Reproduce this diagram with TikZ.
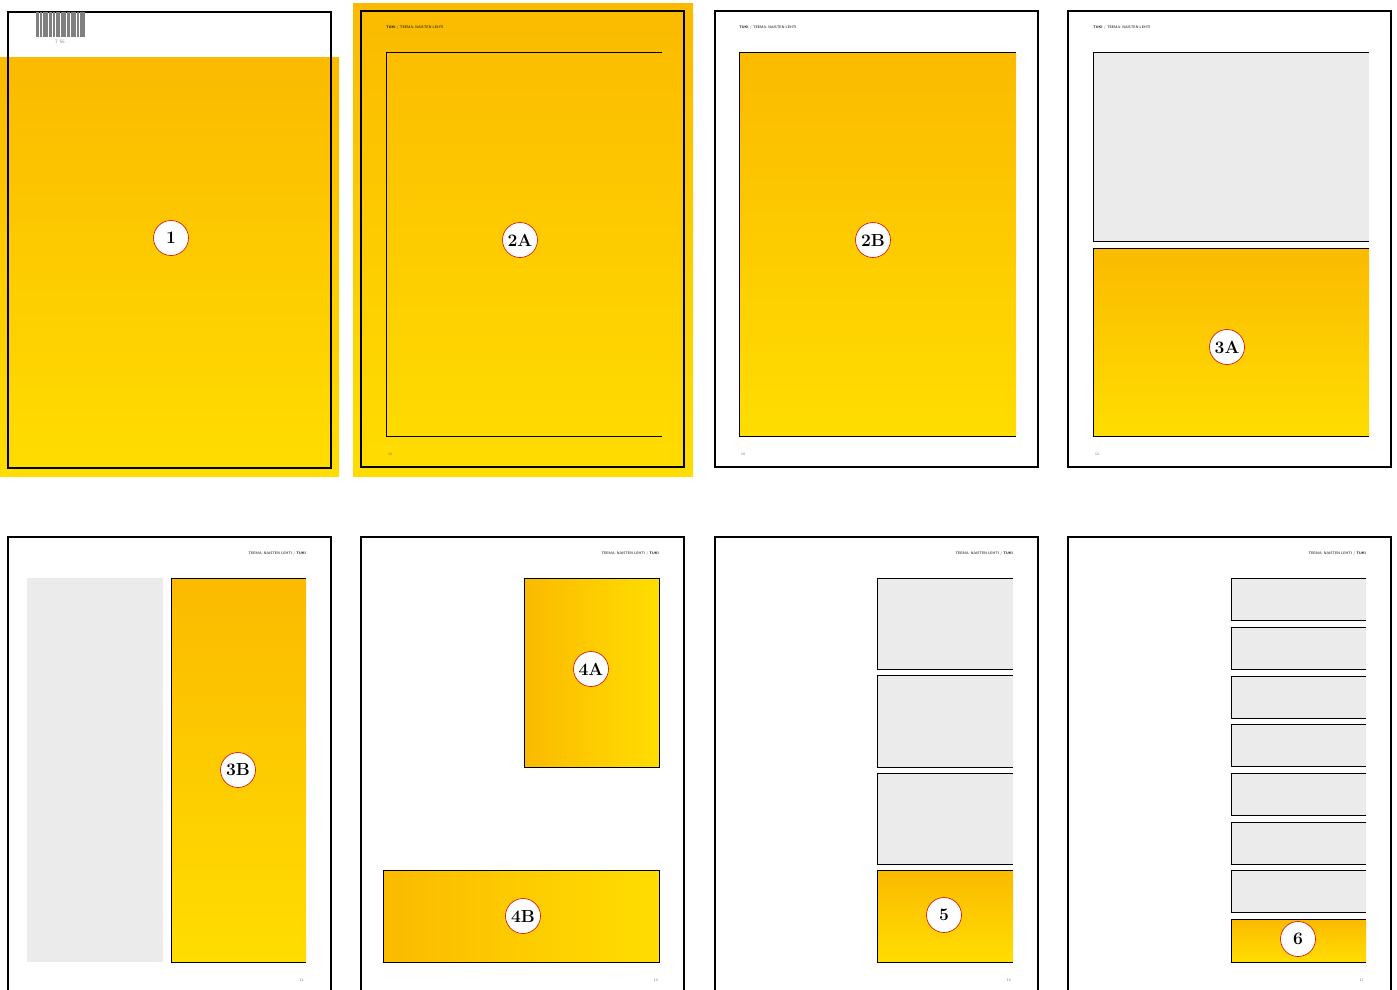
\documentclass[tikz,border=0pt]{standalone}
\usepackage{tikz}
\usetikzlibrary{positioning}
\definecolor{tukidark}{RGB}{251,186,0}
\definecolor{tukilight}{RGB}{255,221,0}
\definecolor{placegray}{RGB}{235,235,235}
\tikzset{
  pageframe/.style={draw=black, line width=1.1pt},
  yellowv/.style={top color=tukidark, bottom color=tukilight},
  yellowh/.style={left color=tukidark, right color=tukilight},
  grayfill/.style={fill=placegray},
  boxline/.style={draw=black, line width=0.6pt},
  marker/.style={
    circle,
    draw=red!85!black,
    line width=0.6pt,
    fill=white,
    minimum size=35pt,
    inner sep=0pt,
    font=\fontsize{17.5}{17.5}\selectfont\bfseries
  },
  header/.style={font=\fontsize{3.6}{4}\selectfont\sffamily, inner sep=0pt},
  pagenum/.style={font=\fontsize{3.6}{4}\selectfont\sffamily, text=black!60, inner sep=0pt}
}

\begin{document}
\begin{tikzpicture}[x=1pt,y=-1pt]
\useasboundingbox (0,0) rectangle (1397,989);
\fill[white] (0,0) rectangle (1397,989);
% top row
% page 1 (cover)
\shade[yellowv] (0,57) rectangle (339,476);
\draw[pageframe] (8,12) rectangle (331,468);
\fill[white] (34,13) rectangle (87,38);
\foreach \bx/\bw in {36/2.5,39.5/2,42.5/3,46/2,49/3,53/2,56/3.5,60.5/2,63/2.5,66.5/3,70.5/2,73/3,77/2,79.5/3,83/2}
  \fill[black!50] (\bx,12) rectangle ++(\bw,25);
\node[font=\fontsize{5}{5}\selectfont\sffamily, text=black!45, inner sep=0pt] (code) at (60,42) {7 55};
\node[marker] (n1) at (171,238) {1};
% page 2A
\shade[yellowv] (353,3) rectangle (693,476);
\draw[pageframe] (361,11) rectangle (684,467);
\draw[boxline] (662,52) -| (386,436) -- (662,436);
\node[header, anchor=west] (h2a) at (386,28) {\textbf{TUKI} / TEEMA: NAISTEN LEHTI};
\node[pagenum, anchor=west] (p2a) at (388,454) {10};
\node[marker] (n2a) at (520,240) {2A};
% page 2B
\draw[pageframe] (715,11) rectangle (1038,467);
\shade[yellowv] (739,52) rectangle (1016,436);
\draw[boxline] (1016,52) -| (739,436) -- (1016,436);
\node[header, anchor=west] (h2b) at (739,28) {\textbf{TUKI} / TEEMA: NAISTEN LEHTI};
\node[pagenum, anchor=west] (p2b) at (741,454) {10};
\node[marker] (n2b) at (873,240) {2B};
% page 3A
\draw[pageframe] (1068,11) rectangle (1391,467);
\fill[grayfill] (1093,52) rectangle (1369,241);
\draw[boxline] (1369,52) -| (1093,241) -- (1369,241);
\shade[yellowv] (1093,248) rectangle (1369,436);
\draw[boxline] (1369,248) -| (1093,436) -- (1369,436);
\node[header, anchor=west] (h3a) at (1093,28) {\textbf{TUKI} / TEEMA: NAISTEN LEHTI};
\node[pagenum, anchor=west] (p3a) at (1095,454) {12};
\node[marker] (n3a) at (1227,347) {3A};
% bottom row
% page 3B
\draw[pageframe] (8,1000) |- (331,537) -- (331,1000);
\fill[grayfill] (27,578) rectangle (163,962);
\shade[yellowv] (171,578) rectangle (306,962);
\draw[boxline] (306,578) -| (171,962) -- (306,962);
\node[header, anchor=east] (h3b) at (306,554) {TEEMA: NAISTEN LEHTI / \textbf{TUKI}};
\node[pagenum, anchor=east] (p3b) at (304,980) {11};
\node[marker] (n3b) at (238,770) {3B};
% page 4
\draw[pageframe] (361,1000) |- (684,537) -- (684,1000);
\shade[yellowh] (524,578) rectangle (659,767);
\shade[yellowh] (383,870) rectangle (659,962);
\draw[boxline] (524,578) rectangle (659,767);
\draw[boxline] (383,870) rectangle (659,962);
\node[header, anchor=east] (h4) at (659,554) {TEEMA: NAISTEN LEHTI / \textbf{TUKI}};
\node[pagenum, anchor=east] (p4) at (658,980) {13};
\node[marker] (n4a) at (591,669) {4A};
\node[marker] (n4b) at (523,916) {4B};
% page 5
\draw[pageframe] (715,1000) |- (1038,537) -- (1038,1000);
\foreach \ya/\yb in {578/669,675/767,773/864} {
  \fill[grayfill] (877,\ya) rectangle (1013,\yb);
  \draw[boxline] (1013,\ya) -| (877,\yb) -- (1013,\yb);
}
\shade[yellowv] (877,870) rectangle (1013,962);
\draw[boxline] (1013,870) -| (877,962) -- (1013,962);
\node[header, anchor=east] (h5) at (1013,554) {TEEMA: NAISTEN LEHTI / \textbf{TUKI}};
\node[pagenum, anchor=east] (p5) at (1011,980) {15};
\node[marker] (n5) at (944,915) {5};
% page 6
\draw[pageframe] (1068,1000) |- (1391,537) -- (1391,1000);
\foreach \ya/\yb in {578/620,627/669,676/718,724/766,773/815,822/864,870/912} {
  \fill[grayfill] (1231,\ya) rectangle (1366,\yb);
  \draw[boxline] (1366,\ya) -| (1231,\yb) -- (1366,\yb);
}
\shade[yellowv] (1231,919) rectangle (1366,962);
\draw[boxline] (1366,919) -| (1231,962) -- (1366,962);
\node[header, anchor=east] (h6) at (1366,554) {TEEMA: NAISTEN LEHTI / \textbf{TUKI}};
\node[pagenum, anchor=east] (p6) at (1364,980) {17};
\node[marker] (n6) at (1298,939) {6};
\end{tikzpicture}
\end{document}
